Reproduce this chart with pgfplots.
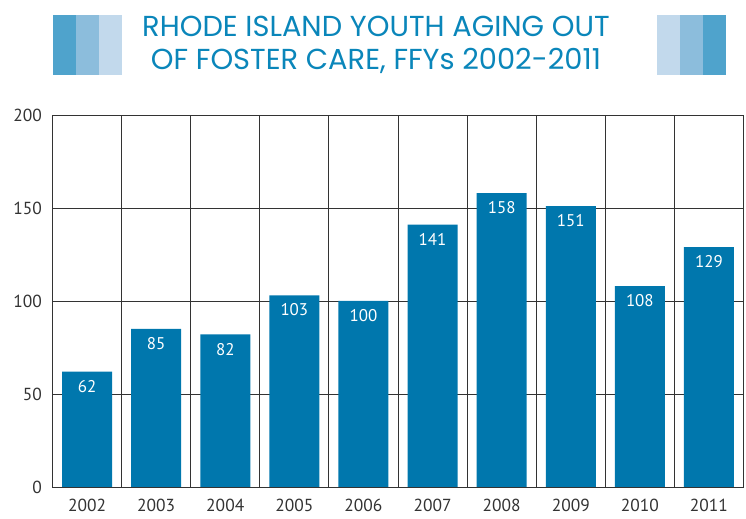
\documentclass[border=0pt]{standalone}
\usepackage{pgfplots}
\pgfplotsset{compat=1.18}
\usepackage{fontspec}
\setmainfont{PT Sans}
\newfontfamily\titlefont{Poppins}
\definecolor{barblue}{HTML}{0077AD}
\definecolor{titleblue}{HTML}{0A86BA}
\definecolor{bA}{HTML}{4FA3CC}
\definecolor{bB}{HTML}{8CBDDC}
\definecolor{bC}{HTML}{C2D9EC}
\definecolor{gridc}{HTML}{333333}
\begin{document}
\begin{tikzpicture}
\path[use as bounding box] (0bp,0bp) rectangle (746bp,519bp);
\fill[bA] (53bp,444bp) rectangle (76bp,504bp);
\fill[bB] (76bp,444bp) rectangle (99bp,504bp);
\fill[bC] (99bp,444bp) rectangle (122bp,504bp);
\fill[bC] (657bp,444bp) rectangle (680bp,504bp);
\fill[bB] (680bp,444bp) rectangle (703bp,504bp);
\fill[bA] (703bp,444bp) rectangle (726bp,504bp);
\node[font=\titlefont\fontsize{29}{29}\selectfont, text=titleblue] at (376bp,493bp) {RHODE ISLAND YOUTH AGING OUT};
\node[font=\titlefont\fontsize{29}{29}\selectfont, text=titleblue] at (376bp,458bp) {OF FOSTER CARE, FFYs 2002-2011};
\begin{axis}[
  at={(52.5bp,32bp)}, anchor=south west, scale only axis,
  width=691bp, height=372bp,
  xmin=-0.5, xmax=9.5, ymin=0, ymax=200,
  ytick={0,50,100,150,200},
  xtick={0,...,9},
  xticklabels={2002,2003,2004,2005,2006,2007,2008,2009,2010,2011},
  extra x ticks={0.5,1.5,2.5,3.5,4.5,5.5,6.5,7.5,8.5},
  extra x tick labels={},
  extra x tick style={grid=major},
  ymajorgrids,
  major grid style={gridc, line width=0.9bp},
  axis line style={gridc, line width=0.9bp},
  major tick length=0pt,
  tick style={draw=none},
  /pgf/number format/assume math mode=true,
  ticklabel style={font=\fontsize{17.5}{17.5}\selectfont, text=gridc},
  xticklabel style={yshift=-9bp},
  yticklabel style={xshift=-7bp},
  ybar, bar width=50bp,
  nodes near coords,
  every node near coord/.append style={anchor=north, yshift=-5bp, text=white, font=\fontsize{17}{17}\selectfont},
]
\addplot[fill=barblue, draw=none] coordinates {(0,62) (1,85) (2,82) (3,103) (4,100) (5,141) (6,158) (7,151) (8,108) (9,129)};
\end{axis}
\end{tikzpicture}
\end{document}
